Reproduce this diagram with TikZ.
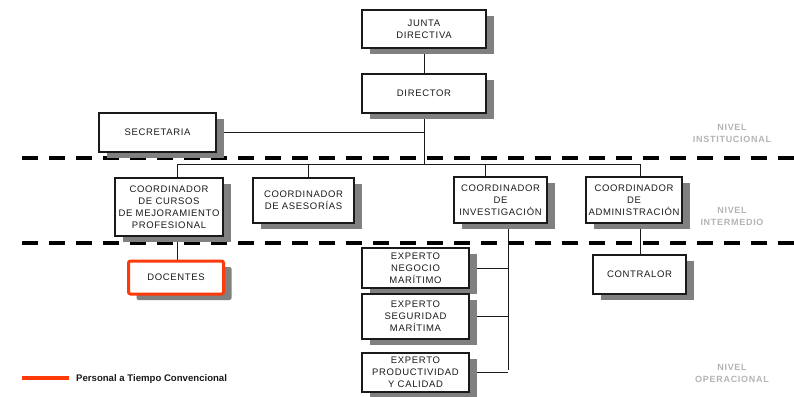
\documentclass[tikz,border=0pt]{standalone}
\usepackage{fontspec}
\setmainfont{Liberation Sans}
\usepackage{tikz}
\usetikzlibrary{shadows,calc}
\definecolor{ink}{HTML}{1A1A1A}
\definecolor{shade}{HTML}{808080}
\definecolor{levelgray}{HTML}{B4B4B4}
\definecolor{warm}{HTML}{FF3A0A}
\tikzset{
  unit/.style={draw=ink, fill=white, line width=1.2pt, align=center, inner sep=1pt,
    font=\fontsize{9.5}{12}\selectfont\addfontfeature{LetterSpace=7}, text=ink,
    general shadow={fill=shade, shadow xshift=8pt, shadow yshift=-6pt}},
  docbox/.style={unit, draw=warm, line width=3pt, rounded corners=2pt},
  link/.style={draw=ink, line width=1pt},
  levelline/.style={draw=black, line width=3.6pt, dash pattern=on 16pt off 11pt},
  levellab/.style={font=\fontsize{9}{12}\selectfont\bfseries\addfontfeature{LetterSpace=8}, text=levelgray, align=center},
}
\begin{document}
\begin{tikzpicture}[x=1pt,y=-1pt]
  \useasboundingbox (0,0) rectangle (794,396);
  % niveles
  \draw[levelline] (22,158) -- (794,158);
  \draw[levelline] (22,243) -- (794,243);
  \node[levellab] (nInst) at (732,133) {NIVEL\\INSTITUCIONAL};
  \node[levellab] (nInter) at (732,216) {NIVEL\\INTERMEDIO};
  \node[levellab] (nOper) at (732,373) {NIVEL\\OPERACIONAL};
  % puntos de enlace
  \coordinate (dirBus) at (424,164);
  \coordinate (busL) at (177,164);
  \coordinate (busR) at (640,164);
  \coordinate (asTop) at (308,164);
  \coordinate (invTop) at (485,164);
  \coordinate (expBus) at (508,370);
  % unidades (posiciones)
  \path
    (424,29)    coordinate (pJunta)
    (424,93.5)  coordinate (pDir)
    (157.5,132.5) coordinate (pSec)
    (169,207)   coordinate (pCur)
    (303.5,200.5) coordinate (pAse)
    (500.5,200) coordinate (pInv)
    (634,200)   coordinate (pAdm)
    (176,277.5) coordinate (pDoc)
    (639.5,274.5) coordinate (pCon)
    (415.5,268) coordinate (pNeg)
    (415.5,316.5) coordinate (pSeg)
    (415.5,372.5) coordinate (pPro);
  % conectores (bajo las cajas)
  \draw[link] (pJunta) -- (pDir);
  \draw[link] (pDir) -- (dirBus);
  \draw[link] (pSec) -- (pSec -| dirBus);
  \draw[link] (busL) -- (busR);
  \draw[link] (busL) -- (busL |- pDoc);
  \draw[link] (asTop) -- (asTop |- pAse);
  \draw[link] (invTop) -- (invTop |- pInv);
  \draw[link] (expBus |- pInv) -- (expBus);
  \draw[link] (busR) -- (busR |- pCon);
  \draw[link] (pNeg) -- (pNeg -| expBus);
  \draw[link] (pSeg) -- (pSeg -| expBus);
  \draw[link] (pPro) -- (pPro -| expBus);
  % cajas
  \node[unit, minimum width=124pt, minimum height=38pt] (junta) at (pJunta) {JUNTA\\DIRECTIVA};
  \node[unit, minimum width=124pt, minimum height=39pt] (director) at (pDir) {DIRECTOR};
  \node[unit, minimum width=117pt, minimum height=39pt] (secretaria) at (pSec) {SECRETARIA};
  \node[unit, minimum width=108pt, minimum height=58pt] (cursos) at (pCur) {COORDINADOR\\DE CURSOS\\DE MEJORAMIENTO\\PROFESIONAL};
  \node[unit, minimum width=101pt, minimum height=45pt] (asesorias) at (pAse) {COORDINADOR\\DE ASESORÍAS};
  \node[unit, minimum width=93pt, minimum height=46pt] (investig) at (pInv) {COORDINADOR\\DE\\INVESTIGACIÓN};
  \node[unit, minimum width=96pt, minimum height=46pt] (admin) at (pAdm) {COORDINADOR\\DE\\ADMINISTRACIÓN};
  \node[docbox, minimum width=95pt, minimum height=33pt] (docentes) at (pDoc) {DOCENTES};
  \node[unit, minimum width=93pt, minimum height=39pt] (contralor) at (pCon) {CONTRALOR};
  \node[unit, minimum width=107pt, minimum height=40pt] (negocio) at (pNeg) {EXPERTO\\NEGOCIO\\MARÍTIMO};
  \node[unit, minimum width=107pt, minimum height=45pt] (seguridad) at (pSeg) {EXPERTO\\SEGURIDAD\\MARÍTIMA};
  \node[unit, minimum width=107pt, minimum height=39pt] (producto) at (pPro) {EXPERTO\\PRODUCTIVIDAD\\Y CALIDAD};
  % leyenda
  \coordinate (legA) at (22,378);
  \coordinate (legB) at (69,378);
  \draw[draw=warm, line width=3.2pt] (legA) -- (legB);
  \node[anchor=west, inner sep=0pt, font=\fontsize{9.6}{11}\selectfont\bfseries, text=ink] (legtxt) at (76,379) {Personal a Tiempo Convencional};
\end{tikzpicture}
\end{document}
